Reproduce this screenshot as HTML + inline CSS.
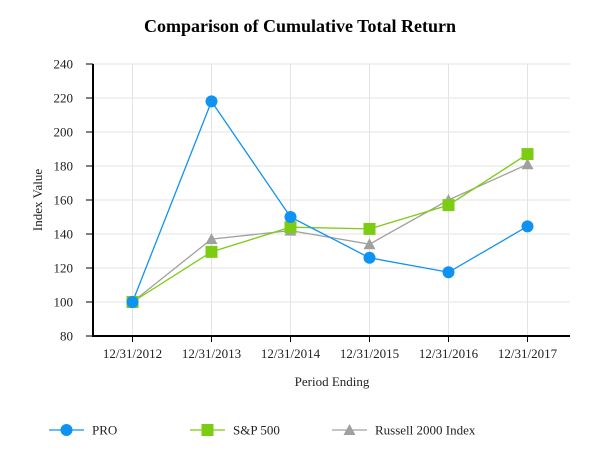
<!DOCTYPE html>
<html><head><meta charset="utf-8"><style>
body{margin:0;background:#fff;width:600px;height:466px;overflow:hidden}
svg{font-family:"Liberation Serif",serif;display:block}
</style></head><body>
<svg id="chart" width="600" height="466">
<text x="300" y="32" text-anchor="middle" font-size="18" font-weight="bold" fill="#000">Comparison of Cumulative Total Return</text>
<g id="grid"></g>
<g id="axes"></g>
<g id="series"></g>
<text transform="translate(42,200) rotate(-90)" text-anchor="middle" font-size="13" fill="#222">Index Value</text>
<text x="332" y="386" text-anchor="middle" font-size="13" fill="#222">Period Ending</text>
<g id="legend"></g>
</svg>
<script>
const categories = ["12/31/2012","12/31/2013","12/31/2014","12/31/2015","12/31/2016","12/31/2017"];
const proValues = [100, 218, 150, 126, 117.5, 144.5];
const spValues = [100, 129.5, 144, 143, 157, 187];
const russellValues = [100, 137, 142, 134, 160, 181];
const yTicks = [80,100,120,140,160,180,200,220,240];
const seriesNames = ["PRO","S&P 500","Russell 2000 Index"];

const NS="http://www.w3.org/2000/svg";
const plotLeft=93,plotRight=570,plotTop=64,plotBottom=336,yMin=80,yMax=240;
const step=79;
function xScale(i){return plotLeft+step*(i+0.5);}
function yScale(v){return plotBottom-(v-yMin)/(yMax-yMin)*(plotBottom-plotTop);}
function mk(tag,attrs,parent){const e=document.createElementNS(NS,tag);for(const k in attrs)e.setAttribute(k,attrs[k]);parent.appendChild(e);return e;}
const grid=document.getElementById('grid'),axes=document.getElementById('axes'),ser=document.getElementById('series'),leg=document.getElementById('legend');

yTicks.forEach(t=>{
  const y=yScale(t);
  const g=mk('line',{x1:plotLeft,x2:plotRight,y1:y,y2:y,stroke:'#e3e3e3','stroke-width':1},grid);
  
  
  const tk=mk('line',{x1:86,x2:plotLeft,y1:y,y2:y,stroke:'#000','stroke-width':1},axes);
  
  
  const lb=mk('text',{x:73,y:y+4.5,'text-anchor':'end','font-size':13,fill:'#222'},axes);
  lb.textContent=t;
  
  
});
categories.forEach((c,i)=>{
  const x=xScale(i);
  const g=mk('line',{x1:x,x2:x,y1:plotTop,y2:plotBottom,stroke:'#e3e3e3','stroke-width':1},grid);
  
  
  const tk=mk('line',{x1:x,x2:x,y1:plotBottom,y2:plotBottom+6,stroke:'#000','stroke-width':1},axes);
  
  
  const lb=mk('text',{x:x,y:358,'text-anchor':'middle','font-size':13,fill:'#222'},axes);
  lb.textContent=c;
  
  
});
const ya=mk('line',{x1:plotLeft,x2:plotLeft,y1:plotTop,y2:plotBottom+1,stroke:'#000','stroke-width':2},axes);


const xa=mk('line',{x1:plotLeft-1,x2:plotRight,y1:plotBottom,y2:plotBottom,stroke:'#000','stroke-width':2},axes);



function marker(type,x,y,color,parent){
  let m;
  if(type==='circle') m=mk('circle',{cx:x,cy:y,r:6,fill:color},parent);
  else if(type==='square') m=mk('rect',{x:x-6,y:y-6,width:12,height:12,fill:color},parent);
  else m=mk('polygon',{points:`${x},${y-6} ${x+6},${y+5} ${x-6},${y+5}`,fill:color},parent);
  return m;
}
const defs=[
  {vals:russellValues,color:'#a0a0a0',type:'tri',name:'russell'},
  {vals:spValues,color:'#7ccc12',type:'square',name:'sp500'},
  {vals:proValues,color:'#0f93f2',type:'circle',name:'pro'}
];
defs.forEach(d=>{
  const pts=d.vals.map((v,i)=>xScale(i)+','+yScale(v)).join(' ');
  const pl=mk('polyline',{points:pts,fill:'none',stroke:d.color,'stroke-width':1.3},ser);
  
  
});
defs.forEach(d=>{
  d.vals.forEach((v,i)=>{
    const m=marker(d.type,xScale(i),yScale(v),d.color,ser);
    
    
  });
});
const legendDefs=[
  {x:49,color:'#0f93f2',type:'circle'},
  {x:190,color:'#7ccc12',type:'square'},
  {x:332,color:'#a0a0a0',type:'tri'}
];
legendDefs.forEach((d,i)=>{
  const g=mk('g',{},leg);
  
  
  mk('line',{x1:d.x,x2:d.x+35,y1:430,y2:430,stroke:d.color,'stroke-width':1.3},g);
  marker(d.type,d.x+17.5,430,d.color,g);
  const t=mk('text',{x:d.x+43,y:434.5,'font-size':13,fill:'#222'},g);
  t.textContent=seriesNames[i];
});
</script>
</body></html>
